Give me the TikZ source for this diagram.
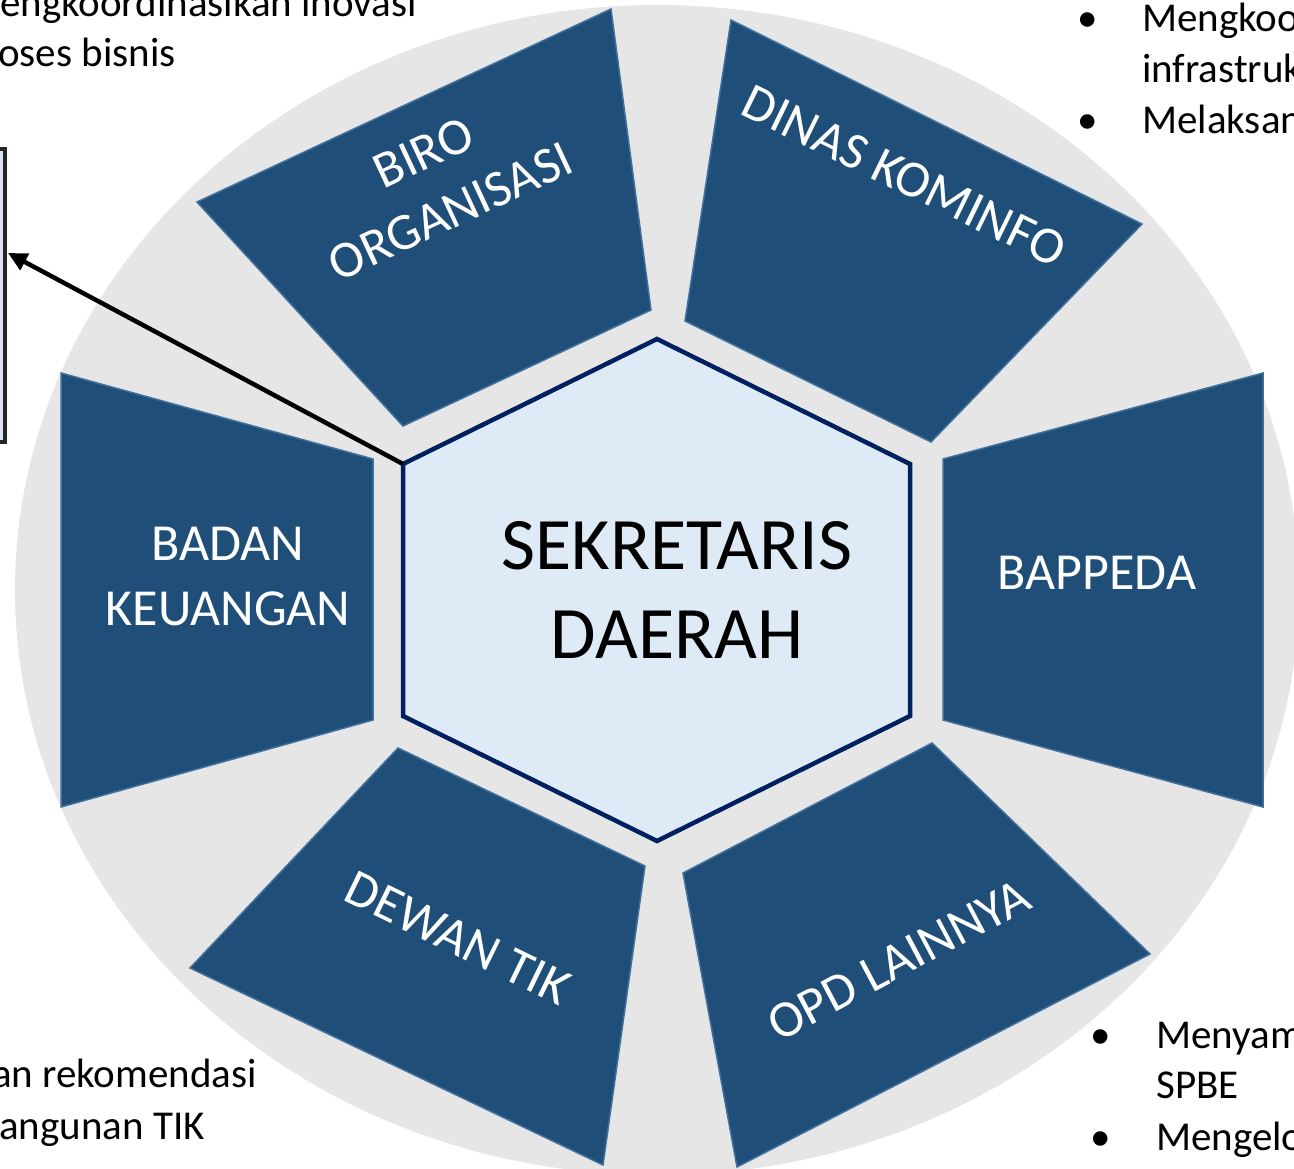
\documentclass[tikz,border=0pt]{standalone}
\usepackage{fontspec}
\setmainfont{Carlito}
\usetikzlibrary{arrows.meta}
\definecolor{ringgrey}{HTML}{E6E6E6}
\definecolor{unitblue}{HTML}{1F4E79}
\definecolor{unitedge}{HTML}{41719C}
\definecolor{hexfill}{HTML}{DEEBF7}
\definecolor{hexedge}{HTML}{002060}
\definecolor{boxfill}{HTML}{DAE3F3}
\definecolor{boxedge}{HTML}{262626}
\tikzstyle{unit} = [fill=unitblue, draw=unitedge, line width=1.5pt]
\tikzstyle{unitlabel} = [text=white, font=\fontsize{52}{65}\selectfont, align=center, inner sep=0pt]
\tikzstyle{hexlabel} = [text=black, font=\fontsize{74}{89}\selectfont, align=center, inner sep=0pt]
\tikzstyle{note} = [text=black, font=\fontsize{41}{50}\selectfont, inner sep=0pt]
\tikzstyle{dot} = [note, anchor=base]

\begin{document}
\begin{tikzpicture}[x=1pt,y=-1pt]
	\useasboundingbox (0,0) rectangle (1294,1169);

	% grey ring behind everything
	\fill [ringgrey] (657,590) ellipse [x radius=642pt, y radius=585pt];

	% the six units round the centre
	\draw [unit] (197,202) -- (611,9) -- (651,310) -- (403,426) -- cycle;
	\draw [unit] (731,20) -- (1142,224) -- (931,442) -- (685,321) -- cycle;
	\draw [unit] (943,459) -- (1263,373) -- (1263,807) -- (943,720) -- cycle;
	\draw [unit] (61,373) -- (373,459) -- (373,720) -- (61,807) -- cycle;
	\draw [unit] (398,748) -- (645,866) -- (603,1165) -- (190,968) -- cycle;
	\draw [unit] (932,743) -- (1150,954) -- (737,1167) -- (683,873) -- cycle;

	\node [unitlabel, rotate=25] (biro) at (437,182) {BIRO\\ORGANISASI};
	\node [unitlabel, rotate=-26] (kominfo) at (904,176) {DINAS KOMINFO};
	\node [unitlabel] (bappeda) at (1097,573) {BAPPEDA};
	\node [unitlabel] (keuangan) at (228,577) {BADAN\\KEUANGAN};
	\node [unitlabel, rotate=-26] (dewan) at (458,938) {DEWAN TIK};
	\node [unitlabel, rotate=28] (opd) at (899,960) {OPD LAINNYA};

	% centre hexagon
	\coordinate (hn) at (657,339);
	\coordinate (hne) at (910,464);
	\coordinate (hse) at (910,716);
	\coordinate (hs) at (657,841);
	\coordinate (hsw) at (403,716);
	\coordinate (hnw) at (403,464);
	\draw [fill=hexfill, draw=hexedge, line width=4.5pt] (hn) -- (hne) -- (hse) -- (hs) -- (hsw) -- (hnw) -- cycle;
	\node [hexlabel] (sekda) at (677,590) {SEKRETARIS\\DAERAH};

	% box on the left and its pointer
	\node [draw=boxedge, fill=boxfill, line width=3.5pt, minimum width=80pt, minimum height=293pt, anchor=east] (box) at (6.5,295.5) {};
	\coordinate (boxpin) at (8,253);
	\draw [line width=4.5pt, -{Triangle[length=19pt,width=18pt]}] (hnw) -- (boxpin);

	% notes cut by the page edge
	\node [note, anchor=base west] (noteA1) at (0,17) {engkoordinasikan inovasi};
	\node [note, anchor=base west] (noteA2) at (-2,67) {oses bisnis};

	\node [dot] (dotB1) at (1088,32) {\textbullet};
	\node [note, anchor=base west] (noteB1) at (1142,32) {Mengkoo};
	\node [note, anchor=base west] (noteB2) at (1142,83) {infrastruk};
	\node [dot] (dotB2) at (1088,134) {\textbullet};
	\node [note, anchor=base west] (noteB3) at (1142,134) {Melaksan};

	\node [note, anchor=base east] (noteC1) at (257,1087) {an rekomendasi};
	\node [note, anchor=base east] (noteC2) at (205,1139) {angunan TIK};

	\node [dot] (dotD1) at (1101,1048) {\textbullet};
	\node [note, anchor=base west] (noteD1) at (1156,1048) {Menyam};
	\node [note, anchor=base west] (noteD2) at (1156,1098) {SPBE};
	\node [dot] (dotD2) at (1101,1150) {\textbullet};
	\node [note, anchor=base west] (noteD3) at (1156,1150) {Mengelo};
\end{tikzpicture}
\end{document}
